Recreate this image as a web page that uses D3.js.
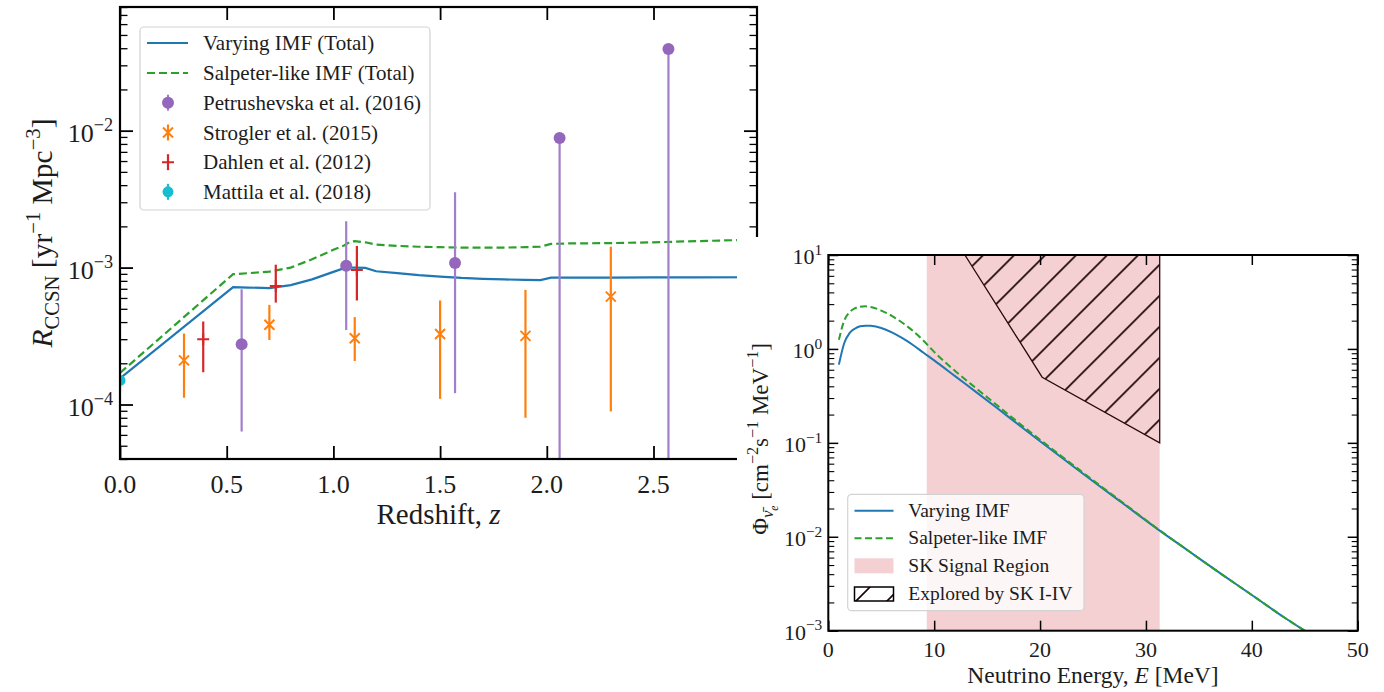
<!DOCTYPE html>
<html><head><meta charset="utf-8">
<script src="https://cdn.jsdelivr.net/npm/d3@7"></script>
<style>
body{margin:0;background:#fff}
text{font-family:"Liberation Serif","Times New Roman",serif;fill:#1c1c1c}
</style>
</head><body>
<svg id="c" width="1384" height="692"></svg>
<script>
// ---------------- Left panel data (CCSN rate vs redshift) ----------------
const zCurve        = [0, 0.53, 0.6, 0.7, 0.8, 0.9, 1.0, 1.05, 1.08, 1.1, 1.15, 1.2, 1.3, 1.4, 1.5, 1.6, 1.7, 1.8, 1.9, 1.97, 2.02, 2.1, 2.3, 2.5, 2.7, 2.985];
const rateVarying   = [1.55e-4, 7.2e-4, 7.15e-4, 7.08e-4, 7.45e-4, 8.2e-4, 9.3e-4, 9.9e-4, 1.0e-3, 1.0e-3, 9.95e-4, 9.4e-4, 9.1e-4, 8.8e-4, 8.6e-4, 8.4e-4, 8.28e-4, 8.2e-4, 8.13e-4, 8.1e-4, 8.45e-4, 8.45e-4, 8.45e-4, 8.47e-4, 8.48e-4, 8.5e-4];
const rateSalpeter  = [1.7e-4, 8.95e-4, 9.1e-4, 9.35e-4, 1.0e-3, 1.15e-3, 1.35e-3, 1.45e-3, 1.55e-3, 1.56e-3, 1.53e-3, 1.47e-3, 1.44e-3, 1.42e-3, 1.41e-3, 1.40e-3, 1.40e-3, 1.40e-3, 1.41e-3, 1.42e-3, 1.49e-3, 1.50e-3, 1.51e-3, 1.53e-3, 1.56e-3, 1.6e-3];

const petZ  = [0.57, 1.06, 1.57, 2.06, 2.57];
const petR  = [2.75e-4, 1.03e-3, 1.08e-3, 8.85e-3, 3.95e-2];
const petLo = [6.35e-5, 3.5e-4, 1.21e-4, 1e-6, 1e-6];
const petHi = [6.95e-4, 2.18e-3, 3.55e-3, 8.85e-3, 3.95e-2];

const strZ  = [0.3, 0.7, 1.1, 1.5, 1.9, 2.3];
const strR  = [2.1e-4, 3.82e-4, 3.05e-4, 3.27e-4, 3.17e-4, 6.14e-4];
const strLo = [1.12e-4, 2.96e-4, 2.08e-4, 1.10e-4, 8.0e-5, 8.9e-5];
const strHi = [3.3e-4, 5.34e-4, 4.35e-4, 5.75e-4, 6.87e-4, 1.42e-3];

const dahZ  = [0.39, 0.73, 1.11];
const dahR  = [3.0e-4, 7.35e-4, 9.6e-4];
const dahLo = [1.72e-4, 5.55e-4, 5.75e-4];
const dahHi = [4.04e-4, 1.05e-3, 1.44e-3];

const matZ  = [0.0];
const matR  = [1.5e-4];
const matLo = [1.22e-4];
const matHi = [1.85e-4];

const zTicks = [0, 0.5, 1.0, 1.5, 2.0, 2.5];
const zTickLabels = ["0.0", "0.5", "1.0", "1.5", "2.0", "2.5"];
const rateDecades = [1e-4, 1e-3, 1e-2];
const rateDecadeExp = ["−4", "−3", "−2"];

const leftLegend = ["Varying IMF (Total)", "Salpeter-like IMF (Total)", "Petrushevska et al. (2016)", "Strogler et al. (2015)", "Dahlen et al. (2012)", "Mattila et al. (2018)"];

// ---------------- Right panel data (DSNB flux vs energy) ----------------
const energy       = [1, 1.5, 2, 2.5, 3, 3.5, 4, 5, 6, 7, 8, 9, 10, 12, 14, 16, 18, 20, 22, 25, 28, 31, 34, 37, 40, 43, 45.5];
const fluxVarying  = [0.68, 1.15, 1.47, 1.64, 1.74, 1.77, 1.76, 1.67, 1.50, 1.30, 1.10, 0.91, 0.755, 0.51, 0.345, 0.232, 0.155, 0.104, 0.0703, 0.039, 0.0219, 0.0123, 0.0071, 0.0041, 0.0024, 0.0014, 0.00092];
const fluxSalpeter = [1.25, 2.0, 2.45, 2.7, 2.82, 2.84, 2.8, 2.56, 2.25, 1.9, 1.55, 1.22, 0.93, 0.58, 0.378, 0.248, 0.163, 0.108, 0.0725, 0.0400, 0.0223, 0.0124, 0.0071, 0.0041, 0.0024, 0.0014, 0.00092];

const signalRegion = [9.3, 31.3];
const exploredE    = [12.9, 20.2, 31.3, 31.3];
const exploredFlux = [10, 0.5, 0.1, 10];

const eTicks = [0, 10, 20, 30, 40, 50];
const fluxDecades = [1e-3, 1e-2, 1e-1, 1e0, 1e1];
const fluxDecadeExp = ["−3", "−2", "−1", "0", "1"];

const rightLegend = ["Varying IMF", "Salpeter-like IMF", "SK Signal Region", "Explored by SK I-IV"];

// ---------------- colours ----------------
const C = {blue:"#1f77b4", green:"#2ca02c", purple:"#9467bd", orange:"#ff7f0e", red:"#d62728", cyan:"#17becf", pink:"#f5d0d3"};

// ---------------- helpers ----------------
const svg = d3.select("#c");
const defs = svg.append("defs");

function rich(t, parts, fs) {
  let cur = 0;
  parts.forEach(p => {
    let target = 0, size = fs;
    if (p.sup) { target = -0.42 * fs; size = 0.7 * fs; }
    if (p.sub) { target = 0.22 * fs; size = 0.7 * fs; }
    if (p.sub2) { target = 0.42 * fs; size = 0.5 * fs; }
    const ts = t.append("tspan").attr("dy", target - cur).attr("font-size", size).text(p.t);
    cur = target;
    if (p.i) ts.attr("font-style", "italic");
  });
}

function minorsBetween(lo, hi) {
  const out = [];
  for (let e = Math.floor(Math.log10(lo)); e <= Math.ceil(Math.log10(hi)); e++) {
    for (let m = 2; m <= 9; m++) {
      const v = m * Math.pow(10, e);
      if (v >= lo && v <= hi) out.push(v);
    }
  }
  return out;
}

function frame(g, x, y, W, H, o) {
  const tk = (sel) => sel.call(s => s.select(".domain").remove())
    .call(s => s.selectAll(".tick line").attr("stroke", "#000"));
  g.append("g").attr("transform", `translate(0,${H})`)
    .call(d3.axisBottom(x).tickValues(o.xTicks).tickSize(-o.maj).tickFormat(""))
    .call(tk).selectAll(".tick line").attr("stroke-width", o.tw);
  g.append("g")
    .call(d3.axisTop(x).tickValues(o.xTicks).tickSize(-o.maj).tickFormat(""))
    .call(tk).selectAll(".tick line").attr("stroke-width", o.tw);
  g.append("g").call(d3.axisLeft(y).tickValues(o.yMajor).tickSize(-o.maj).tickFormat(""))
    .call(tk).selectAll(".tick line").attr("stroke-width", o.tw);
  g.append("g").attr("transform", `translate(${W},0)`)
    .call(d3.axisRight(y).tickValues(o.yMajor).tickSize(-o.maj).tickFormat(""))
    .call(tk).selectAll(".tick line").attr("stroke-width", o.tw);
  g.append("g").call(d3.axisLeft(y).tickValues(o.yMinor).tickSize(-o.min).tickFormat(""))
    .call(tk).selectAll(".tick line").attr("stroke-width", o.mw);
  g.append("g").attr("transform", `translate(${W},0)`)
    .call(d3.axisRight(y).tickValues(o.yMinor).tickSize(-o.min).tickFormat(""))
    .call(tk).selectAll(".tick line").attr("stroke-width", o.mw);
  g.append("rect").attr("width", W).attr("height", H).attr("fill", "none")
    .attr("stroke", "#000").attr("stroke-width", o.spine);
}

// =============== LEFT PANEL ===============
const L = {x0: 120, y0: 7, W: 637, H: 452};
const xL = d3.scaleLinear().domain([0, 2.985]).range([0, L.W]);
const yL = d3.scaleLog().domain([4e-5, 8e-2]).range([L.H, 0]);
const gL = svg.append("g").attr("transform", `translate(${L.x0},${L.y0})`);
defs.append("clipPath").attr("id", "clipL").append("rect").attr("width", L.W).attr("height", L.H);
const pL = gL.append("g").attr("clip-path", "url(#clipL)");

const lineL = (ys) => d3.line().x((d, i) => xL(zCurve[i])).y((d, i) => yL(ys[i]))(zCurve);
pL.append("path").attr("d", lineL(rateVarying)).attr("fill", "none").attr("stroke", C.blue).attr("stroke-width", 2.2);
pL.append("path").attr("d", lineL(rateSalpeter)).attr("fill", "none").attr("stroke", C.green).attr("stroke-width", 2.2).attr("stroke-dasharray", "8,4");

function drawMarker(g, m, cx, cy, color) {
  if (m === "o") g.append("circle").attr("cx", cx).attr("cy", cy).attr("r", 6).attr("fill", color);
  else if (m === "x") g.append("path").attr("d", `M${cx-5},${cy-5}L${cx+5},${cy+5}M${cx-5},${cy+5}L${cx+5},${cy-5}`).attr("stroke", color).attr("stroke-width", 2);
  else if (m === "+") g.append("path").attr("d", `M${cx-6},${cy}L${cx+6},${cy}M${cx},${cy-6}L${cx},${cy+6}`).attr("stroke", color).attr("stroke-width", 2);
  else if (m === "d") g.append("circle").attr("cx", cx).attr("cy", cy).attr("r", 5.5).attr("fill", color);
}
function errSeries(zs, rs, lo, hi, color, lineColor, marker) {
  const g = pL.append("g");
  zs.forEach((z, i) => {
    g.append("line").attr("x1", xL(z)).attr("x2", xL(z)).attr("y1", yL(lo[i])).attr("y2", yL(hi[i]))
      .attr("stroke", lineColor).attr("stroke-width", 2.2);
  });
  zs.forEach((z, i) => drawMarker(g, marker, xL(z), yL(rs[i]), color));
}
errSeries(petZ, petR, petLo, petHi, C.purple, "#a27fcb", "o");
errSeries(strZ, strR, strLo, strHi, C.orange, C.orange, "x");
errSeries(dahZ, dahR, dahLo, dahHi, C.red, C.red, "+");
errSeries(matZ, matR, matLo, matHi, C.cyan, C.cyan, "d");

frame(gL, xL, yL, L.W, L.H, {xTicks: zTicks, yMajor: rateDecades, yMinor: minorsBetween(4e-5, 8e-2), maj: 13, min: 7.5, tw: 1.8, mw: 1.3, spine: 2.2});

const fsL = 26;
gL.selectAll(".xl").data(zTicks).join("text").attr("class", "xl")
  .attr("x", d => xL(d)).attr("y", L.H + 34).attr("text-anchor", "middle").attr("font-size", fsL)
  .text((d, i) => zTickLabels[i]);
rateDecades.forEach((v, i) => {
  const t = gL.append("text").attr("x", -7).attr("y", yL(v) + 11).attr("text-anchor", "end").attr("font-size", fsL);
  rich(t, [{t: "10"}, {t: rateDecadeExp[i], sup: true}], fsL);
});
{
  const t = svg.append("text").attr("x", L.x0 + L.W / 2).attr("y", 524).attr("text-anchor", "middle").attr("font-size", 29);
  rich(t, [{t: "Redshift, "}, {t: "z", i: true}], 29);
  const ty = svg.append("text").attr("transform", `translate(52,${L.y0 + L.H / 2}) rotate(-90)`).attr("text-anchor", "middle").attr("font-size", 29.5);
  rich(ty, [{t: "R", i: true}, {t: "CCSN", sub: true}, {t: " [yr"}, {t: "−1", sup: true}, {t: " Mpc"}, {t: "−3", sup: true}, {t: "]"}], 29.5);
}
{
  const lg = svg.append("g");
  lg.append("rect").attr("x", 140).attr("y", 27).attr("width", 290).attr("height", 183).attr("rx", 4)
    .attr("fill", "#fff").attr("fill-opacity", 0.8).attr("stroke", "#d3d3d3").attr("stroke-width", 1.2);
  const ys = [43, 73, 102.7, 132.5, 162.2, 191.8];
  const hx0 = 147, hx1 = 188, hxc = 168;
  lg.append("line").attr("x1", hx0).attr("x2", hx1).attr("y1", ys[0]).attr("y2", ys[0]).attr("stroke", C.blue).attr("stroke-width", 2.2);
  lg.append("line").attr("x1", hx0).attr("x2", hx1).attr("y1", ys[1]).attr("y2", ys[1]).attr("stroke", C.green).attr("stroke-width", 2.2).attr("stroke-dasharray", "8,4");
  const mk = [["o", C.purple, "#a27fcb"], ["x", C.orange, C.orange], ["+", C.red, C.red], ["d", C.cyan, C.cyan]];
  mk.forEach((m, i) => {
    const y = ys[i + 2];
    lg.append("line").attr("x1", hxc).attr("x2", hxc).attr("y1", y - 8).attr("y2", y + 8).attr("stroke", m[2]).attr("stroke-width", 2.2);
    drawMarker(lg, m[0], hxc, y, m[1]);
  });
  lg.selectAll(".lt").data(leftLegend).join("text").attr("class", "lt")
    .attr("x", 203).attr("y", (d, i) => ys[i] + 7).attr("font-size", 21).text(d => d);
}

// white backdrop of the second figure, which overlaps the first one
svg.append("rect").attr("x", 737).attr("y", 237).attr("width", 1384 - 737).attr("height", 692 - 237).attr("fill", "#fff");

// =============== RIGHT PANEL ===============
const R = {x0: 828.3, y0: 255, W: 529.4, H: 375.7};
const xR = d3.scaleLinear().domain([0, 50]).range([0, R.W]);
const yR = d3.scaleLog().domain([1e-3, 10]).range([R.H, 0]);
const gR = svg.append("g").attr("transform", `translate(${R.x0},${R.y0})`);
defs.append("clipPath").attr("id", "clipR").append("rect").attr("width", R.W).attr("height", R.H);
const pat = defs.append("pattern").attr("id", "hatch").attr("patternUnits", "userSpaceOnUse").attr("width", 31).attr("height", 31);
pat.append("path").attr("d", "M-2,2L2,-2M0,31L31,0M29,33L33,29").attr("stroke", "#1e0606").attr("stroke-width", 1.7);
const pR = gR.append("g").attr("clip-path", "url(#clipR)");

pR.append("rect").attr("x", xR(signalRegion[0])).attr("width", xR(signalRegion[1]) - xR(signalRegion[0]))
  .attr("y", 0).attr("height", R.H).attr("fill", C.pink);
pR.append("path").attr("d", d3.line().x((d, i) => xR(exploredE[i])).y((d, i) => yR(exploredFlux[i])).curve(d3.curveLinearClosed)(exploredE))
  .attr("fill", "url(#hatch)").attr("stroke", "#2a0c0c").attr("stroke-width", 1.3);

const lineR = (ys) => d3.line().curve(d3.curveMonotoneX).x((d, i) => xR(energy[i])).y((d, i) => yR(ys[i]))(energy);
pR.append("path").attr("d", lineR(fluxVarying)).attr("fill", "none").attr("stroke", C.blue).attr("stroke-width", 2);
pR.append("path").attr("d", lineR(fluxSalpeter)).attr("fill", "none").attr("stroke", C.green).attr("stroke-width", 2).attr("stroke-dasharray", "7,3.5");

frame(gR, xR, yR, R.W, R.H, {xTicks: eTicks, yMajor: fluxDecades, yMinor: minorsBetween(1e-3, 10), maj: 10, min: 6, tw: 1.5, mw: 1.1, spine: 2});

const fsR = 22;
gR.selectAll(".xr").data(eTicks).join("text").attr("class", "xr")
  .attr("x", d => xR(d)).attr("y", R.H + 26).attr("text-anchor", "middle").attr("font-size", fsR).text(d => d);
fluxDecades.forEach((v, i) => {
  const t = gR.append("text").attr("x", -6).attr("y", yR(v) + 9).attr("text-anchor", "end").attr("font-size", fsR);
  rich(t, [{t: "10"}, {t: fluxDecadeExp[i], sup: true}], fsR);
});
{
  const t = svg.append("text").attr("x", R.x0 + R.W / 2).attr("y", 683).attr("text-anchor", "middle").attr("font-size", 23.5);
  rich(t, [{t: "Neutrino Energy, "}, {t: "E", i: true}, {t: " [MeV]"}], 23.5);
  const ty = svg.append("text").attr("transform", `translate(768,${R.y0 + R.H / 2 - 4}) rotate(-90)`).attr("text-anchor", "middle").attr("font-size", 23);
  rich(ty, [{t: "Φ"}, {t: "ν\u0304", sub: true, i: true}, {t: "e", sub2: true, i: true}, {t: " [cm"}, {t: "−2", sup: true}, {t: "s"}, {t: "−1", sup: true}, {t: " MeV"}, {t: "−1", sup: true}, {t: "]"}], 23);
}
{
  const lg = svg.append("g");
  lg.append("rect").attr("x", 847.7).attr("y", 494.3).attr("width", 236.3).attr("height", 116.4).attr("rx", 4)
    .attr("fill", "#fff").attr("fill-opacity", 0.8).attr("stroke", "#d3d3d3").attr("stroke-width", 1.2);
  const ys = [510.7, 538.3, 565.8, 594];
  const hx0 = 854.5, hx1 = 893.5;
  lg.append("line").attr("x1", hx0).attr("x2", hx1).attr("y1", ys[0]).attr("y2", ys[0]).attr("stroke", C.blue).attr("stroke-width", 2);
  lg.append("line").attr("x1", hx0).attr("x2", hx1).attr("y1", ys[1]).attr("y2", ys[1]).attr("stroke", C.green).attr("stroke-width", 2).attr("stroke-dasharray", "7,3.5");
  lg.append("rect").attr("x", hx0).attr("y", ys[2] - 7.5).attr("width", hx1 - hx0).attr("height", 15).attr("fill", C.pink);
  lg.append("rect").attr("x", hx0).attr("y", ys[3] - 7).attr("width", hx1 - hx0).attr("height", 14).attr("fill", "url(#hatch)").attr("stroke", "#000").attr("stroke-width", 1.5);
  lg.selectAll(".rt").data(rightLegend).join("text").attr("class", "rt")
    .attr("x", 908.3).attr("y", (d, i) => ys[i] + 6).attr("font-size", 19.5).text(d => d);
}
</script>
</body></html>
